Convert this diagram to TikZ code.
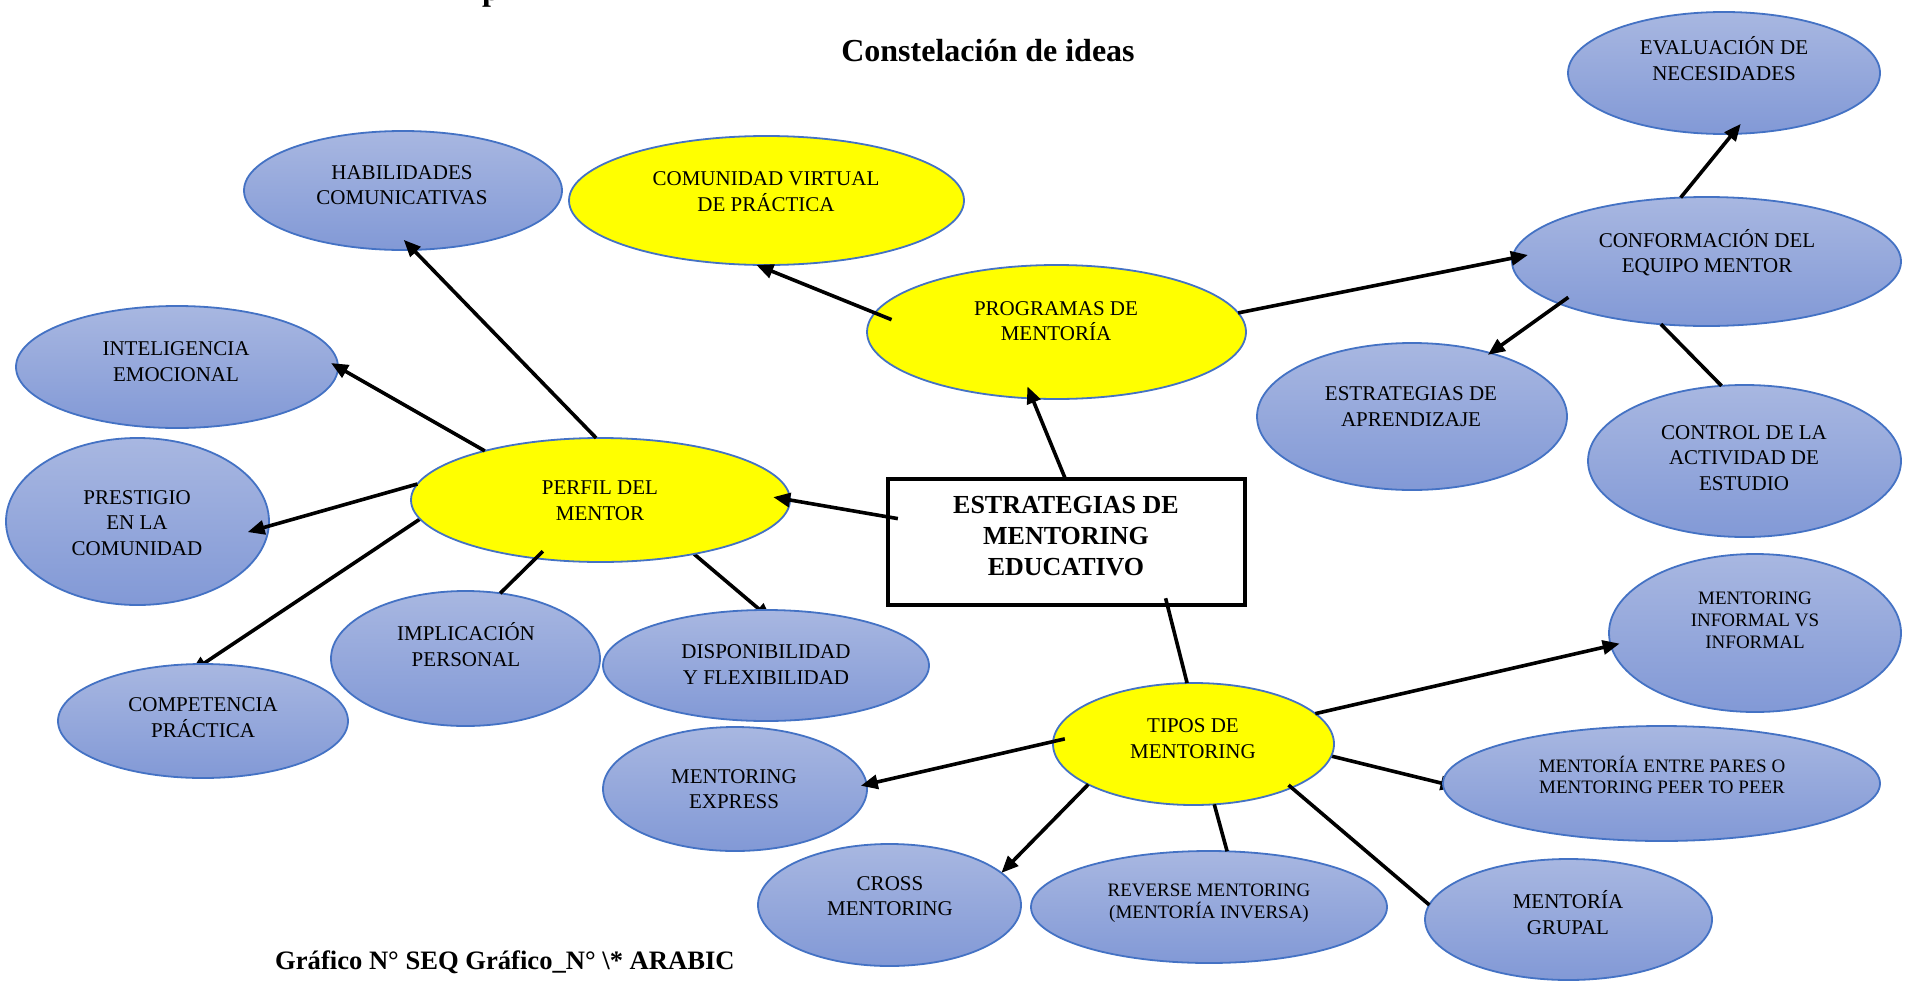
\documentclass[tikz,border=0pt]{standalone}
\usepackage{fontspec}
\setmainfont{Liberation Serif}
\usetikzlibrary{shapes.geometric,arrows.meta}
\pgfdeclarelayer{bg}
\pgfsetlayers{bg,main}
\definecolor{eblue}{HTML}{4472C4}
\definecolor{gtop}{HTML}{A8B7E1}
\definecolor{gbot}{HTML}{8299D6}
\definecolor{pureyellow}{rgb}{1,1,0}
\newcommand\topstr{\rule{0pt}{.95em}}
\newcommand\botstr{\rule[-.33em]{0pt}{.33em}}
\begin{document}
\begin{tikzpicture}[x=1pt,y=-1pt,
  oval/.style={ellipse, draw=eblue, line width=1.8pt, top color=gtop, bottom color=gbot, inner sep=0pt, outer sep=0pt},
  yoval/.style={ellipse, draw=eblue, line width=1.8pt, fill=pureyellow, inner sep=0pt, outer sep=0pt},
  lbl/.style={align=center, inner sep=0pt, font=\fontsize{21}{25.5}\selectfont},
  slbl/.style={align=center, inner sep=0pt, font=\fontsize{19}{22}\selectfont},
  conn/.style={line width=3.6pt, black},
  arr/.style={conn, -{Triangle[length=17pt,width=14pt]}},
]
\begin{pgfonlayer}{bg}
\fill[white] (0,0) rectangle (1906,980);
\end{pgfonlayer}
\useasboundingbox (0,0) rectangle (1906,980);

% cut-off text at top
\node[font=\bfseries\fontsize{32}{38}\selectfont, anchor=base west, inner sep=0pt] (ptop) at (482,0) {p};
% title
\node[font=\bfseries\fontsize{32}{38}\selectfont, anchor=base, inner sep=0pt] (title) at (988,61) {Constelación de ideas};
% caption
\node[font=\bfseries\fontsize{26.6}{30}\selectfont, anchor=base west, inner sep=0pt] (caption) at (275,969) {Gráfico N° SEQ Gráfico\_N° \textbackslash* ARABIC};

% ellipses
\node[oval,  minimum width=318pt, minimum height=119pt] (hab)   at (403,190.5) {};
\node[yoval, minimum width=395pt, minimum height=129pt] (com)   at (766.5,200.5) {};
\node[oval,  minimum width=312pt, minimum height=122pt] (eval)  at (1724,73) {};
\node[oval,  minimum width=389pt, minimum height=129pt] (conf)  at (1706.5,261.5) {};
\node[yoval, minimum width=379pt, minimum height=134pt] (prog)  at (1056.5,332) {};
\node[oval,  minimum width=322pt, minimum height=122pt] (inte)  at (177,367) {};
\node[oval,  minimum width=310pt, minimum height=147pt] (eapr)  at (1412,416.5) {};
\node[oval,  minimum width=313pt, minimum height=152pt] (ctrl)  at (1744.5,461) {};
\node[oval,  minimum width=263pt, minimum height=167pt] (pres)  at (137.5,521.5) {};
\node[yoval, minimum width=379pt, minimum height=124pt] (perf)  at (600.5,500) {};
\node[oval,  minimum width=269pt, minimum height=135pt] (impl)  at (465.5,658.5) {};
\node[oval,  minimum width=326pt, minimum height=111pt] (disp)  at (766,665.5) {};
\node[oval,  minimum width=290pt, minimum height=114pt] (comp)  at (203,721) {};
\node[oval,  minimum width=292pt, minimum height=158pt] (mivi)  at (1755,633) {};
\node[yoval, minimum width=281pt, minimum height=122pt] (tipos) at (1193.5,744) {};
\node[oval,  minimum width=264pt, minimum height=124pt] (expr)  at (735,789) {};
\node[oval,  minimum width=437pt, minimum height=115pt] (pares) at (1661.5,783.5) {};
\node[oval,  minimum width=263pt, minimum height=122pt] (cross) at (889.5,905) {};
\node[oval,  minimum width=356pt, minimum height=112pt] (rev)   at (1209,907) {};
\node[oval,  minimum width=287pt, minimum height=121pt] (grup)  at (1568.5,919.5) {};
% central box
\node[draw=black, line width=4pt, fill=white, minimum width=357pt, minimum height=126pt, inner sep=0pt, outer sep=0pt] (box) at (1066.5,542) {};

% labels
\node[lbl] (thab)   at (402,185.4) {\topstr HABILIDADES\\COMUNICATIVAS\botstr};
\node[lbl] (tcom)   at (766,192)   {\topstr COMUNIDAD VIRTUAL\\DE PRÁCTICA\botstr};
\node[lbl] (teval)  at (1724,61)   {\topstr EVALUACIÓN DE\\NECESIDADES\botstr};
\node[lbl] (tconf)  at (1707,253.5){\topstr CONFORMACIÓN DEL\\EQUIPO MENTOR\botstr};
\node[lbl] (tprog)  at (1056,321.5){\topstr PROGRAMAS DE\\MENTORÍA\botstr};
\node[lbl] (tinte)  at (176,362)   {\topstr INTELIGENCIA\\EMOCIONAL\botstr};
\node[lbl] (teapr)  at (1411,407)  {\topstr ESTRATEGIAS DE\\APRENDIZAJE\botstr};
\node[lbl] (tctrl)  at (1744,458)  {\topstr CONTROL DE LA\\ACTIVIDAD DE\\ESTUDIO\botstr};
\node[lbl] (tpres)  at (137,523)   {\topstr PRESTIGIO\\EN LA\\COMUNIDAD\botstr};
\node[lbl] (tperf)  at (600,501)   {\topstr PERFIL DEL\\MENTOR\botstr};
\node[lbl] (timpl)  at (466,647)   {\topstr IMPLICACIÓN\\PERSONAL\botstr};
\node[lbl] (tdisp)  at (766,665)   {\topstr DISPONIBILIDAD\\Y FLEXIBILIDAD\botstr};
\node[lbl] (tcomp)  at (203,718)   {\topstr COMPETENCIA\\PRÁCTICA\botstr};
\node[slbl] (tmivi) at (1755,621)  {\topstr MENTORING\\INFORMAL VS\\INFORMAL\botstr};
\node[lbl] (ttipos) at (1193,739)  {\topstr TIPOS DE\\MENTORING\botstr};
\node[lbl] (texpr)  at (734,789.5) {\topstr MENTORING\\EXPRESS\botstr};
\node[slbl, font=\fontsize{19}{21}\selectfont] (tpares) at (1662,777) {\topstr MENTORÍA ENTRE PARES O\\MENTORING PEER TO PEER\botstr};
\node[lbl] (tcross) at (890,896.5) {\topstr CROSS\\MENTORING\botstr};
\node[slbl] (trev)  at (1209,902)  {\topstr REVERSE MENTORING\\(MENTORÍA INVERSA)\botstr};
\node[lbl] (tgrup)  at (1568,915)  {\topstr MENTORÍA\\GRUPAL\botstr};
\node[align=center, inner sep=0pt, font=\bfseries\fontsize{26}{31}\selectfont] (tbox) at (1066,536) {\topstr ESTRATEGIAS DE\\MENTORING\\EDUCATIVO\botstr};

% connectors behind ellipses (tips hidden)
\begin{pgfonlayer}{bg}
\draw[arr, shorten >=-15pt] (perf.-174) -- (comp.90);
\draw[arr, shorten >=-15pt] (perf.-30) -- (disp.96);
\draw[arr, shorten >=-15pt] (tipos.-5) -- (pares.180);
\end{pgfonlayer}

% connectors on top
\draw[arr, shorten >=-14pt] (perf.94) -- (hab.-80);
\draw[arr, shorten >=-8pt] (perf.157) -- (inte.0);
\draw[arr, shorten >=-22pt] (perf.175) -- (pres.-2);
\draw[conn, shorten <=-10pt] (perf.-138) -- (impl.62);
\draw[arr, shorten <=-10pt, shorten >=-17pt] (box.172) -- (perf.0);
\draw[arr, shorten >=-13pt] (box.91) -- (prog.-110);
\draw[arr, shorten <=-18pt] (prog.174) -- (com.-99);
\draw[arr, shorten >=-16pt] (prog.6) -- (conf.179);
\draw[arr, shorten >=-13pt] (conf.112) -- (eval.-82);
\draw[arr, shorten <=-11pt, shorten >=-3pt] (conf.-164) -- (eapr.39);
\draw[conn] (conf.-126) -- (ctrl.107);
\draw[conn, shorten <=-7pt] (box.-32) -- (tipos.96);
\draw[arr, shorten >=-9pt] (tipos.14) -- (mivi.-175);
\draw[arr, shorten <=-12pt, shorten >=-6pt] (tipos.179) -- (expr.2);
\draw[arr] (tipos.-159) -- (cross.16);
\draw[conn] (tipos.-71) -- (rev.72);
\draw[conn, shorten <=-4pt] (tipos.-24) -- (grup.174);
\end{tikzpicture}
\end{document}
